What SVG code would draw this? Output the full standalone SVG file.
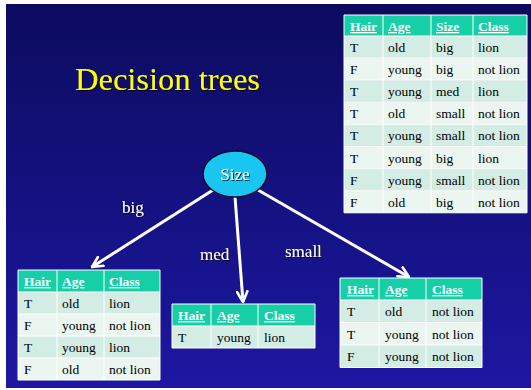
<svg xmlns="http://www.w3.org/2000/svg" width="531" height="390" viewBox="0 0 531 390">
<defs>
<linearGradient id="bg" x1="0" y1="0" x2="0" y2="1">
<stop offset="0" stop-color="#0c0b5e"/>
<stop offset="1" stop-color="#1d17a2"/>
</linearGradient>
<marker id="arr" viewBox="0 0 10 10" refX="9" refY="5" markerWidth="13" markerHeight="13" markerUnits="userSpaceOnUse" orient="auto">
<path d="M1,1 L9,5 L1,9" fill="none" stroke="#fff" stroke-width="2" stroke-linecap="round" stroke-linejoin="round"/>
</marker>
<filter id="sh" x="-10%" y="-10%" width="130%" height="140%">
<feDropShadow dx="1" dy="1" stdDeviation="0.4" flood-color="#000" flood-opacity="0.8"/>
</filter>
</defs>
<style>
text{font-family:"Liberation Serif","Times New Roman","DejaVu Serif",serif}
.cell{font-size:13.5px;fill:#000}
.hd{font-size:13.5px;font-weight:bold;fill:#fff;text-decoration:underline}
.hdr{fill:#16cfa7}
.r1{fill:#d3ece4}
.r2{fill:#ebf6f1}
.grid{stroke:#fff;stroke-width:1;fill:none}
.lbl{font-size:17px;fill:#fff}
.edge{stroke:#fff;stroke-width:3;fill:none;marker-end:url(#arr)}
</style>
<rect x="0" y="0" width="531" height="390" fill="#fff"/>
<rect x="6" y="4" width="525" height="384" fill="url(#bg)"/>

<g id="title">
<text x="75" y="90" font-size="32.5" fill="#ffff00" filter="url(#sh)">Decision trees</text>
</g>

<g id="table-all">
<rect class="hdr" x="344" y="15" width="183" height="21"/>
<rect class="r1" x="344" y="36" width="183" height="22.1"/>
<rect class="r2" x="344" y="58.1" width="183" height="22.1"/>
<rect class="r1" x="344" y="80.2" width="183" height="22.1"/>
<rect class="r2" x="344" y="102.3" width="183" height="22.1"/>
<rect class="r1" x="344" y="124.4" width="183" height="22.1"/>
<rect class="r2" x="344" y="146.5" width="183" height="22.1"/>
<rect class="r1" x="344" y="168.6" width="183" height="22.1"/>
<rect class="r2" x="344" y="190.7" width="183" height="22.1"/>
<path class="grid" d="M344,15H527V212.8H344Z M383,15V212.8 M431,15V212.8 M473,15V212.8 M344,36H527 M344,58.1H527 M344,80.2H527 M344,102.3H527 M344,124.4H527 M344,146.5H527 M344,168.6H527 M344,190.7H527"/>
<text class="hd" x="350" y="31">Hair</text><text class="hd" x="388" y="31">Age</text><text class="hd" x="436" y="31">Size</text><text class="hd" x="478" y="31">Class</text>
<text class="cell" x="350" y="52">T</text><text class="cell" x="388" y="52">old</text><text class="cell" x="436" y="52">big</text><text class="cell" x="478" y="52">lion</text>
<text class="cell" x="350" y="74.1">F</text><text class="cell" x="388" y="74.1">young</text><text class="cell" x="436" y="74.1">big</text><text class="cell" x="478" y="74.1">not lion</text>
<text class="cell" x="350" y="96.2">T</text><text class="cell" x="388" y="96.2">young</text><text class="cell" x="436" y="96.2">med</text><text class="cell" x="478" y="96.2">lion</text>
<text class="cell" x="350" y="118.3">T</text><text class="cell" x="388" y="118.3">old</text><text class="cell" x="436" y="118.3">small</text><text class="cell" x="478" y="118.3">not lion</text>
<text class="cell" x="350" y="140.4">T</text><text class="cell" x="388" y="140.4">young</text><text class="cell" x="436" y="140.4">small</text><text class="cell" x="478" y="140.4">not lion</text>
<text class="cell" x="350" y="162.5">T</text><text class="cell" x="388" y="162.5">young</text><text class="cell" x="436" y="162.5">big</text><text class="cell" x="478" y="162.5">lion</text>
<text class="cell" x="350" y="184.6">F</text><text class="cell" x="388" y="184.6">young</text><text class="cell" x="436" y="184.6">small</text><text class="cell" x="478" y="184.6">not lion</text>
<text class="cell" x="350" y="206.7">F</text><text class="cell" x="388" y="206.7">old</text><text class="cell" x="436" y="206.7">big</text><text class="cell" x="478" y="206.7">not lion</text>
</g>

<g id="connectors">
<line class="edge" x1="213" y1="190" x2="92" y2="267"/>
<line class="edge" x1="235" y1="197" x2="243" y2="302"/>
<line class="edge" x1="258" y1="190" x2="409" y2="277"/>
</g>

<g id="edge-labels" filter="url(#sh)">
<text class="lbl" x="122" y="213">big</text>
<text class="lbl" x="200" y="260">med</text>
<text class="lbl" x="285" y="257">small</text>
</g>

<g id="node-size">
<ellipse cx="235" cy="174" rx="32" ry="23" fill="#19c5f1" stroke="#0a0a30" stroke-width="1.5"/>
<text x="235" y="180" text-anchor="middle" font-size="17" fill="#fff" filter="url(#sh)">Size</text>
</g>

<g id="table-big">
<rect class="hdr" x="18" y="270" width="142" height="22"/>
<rect class="r1" x="18" y="292" width="142" height="22"/>
<rect class="r2" x="18" y="314" width="142" height="22"/>
<rect class="r1" x="18" y="336" width="142" height="22"/>
<rect class="r2" x="18" y="358" width="142" height="22"/>
<path class="grid" d="M18,270H160V380H18Z M57,270V380 M104,270V380 M18,292H160 M18,314H160 M18,336H160 M18,358H160"/>
<text class="hd" x="24" y="286">Hair</text><text class="hd" x="62" y="286">Age</text><text class="hd" x="109" y="286">Class</text>
<text class="cell" x="24" y="308">T</text><text class="cell" x="62" y="308">old</text><text class="cell" x="109" y="308">lion</text>
<text class="cell" x="24" y="330">F</text><text class="cell" x="62" y="330">young</text><text class="cell" x="109" y="330">not lion</text>
<text class="cell" x="24" y="352">T</text><text class="cell" x="62" y="352">young</text><text class="cell" x="109" y="352">lion</text>
<text class="cell" x="24" y="374">F</text><text class="cell" x="62" y="374">old</text><text class="cell" x="109" y="374">not lion</text>
</g>

<g id="table-med">
<rect class="hdr" x="172" y="304" width="143" height="22"/>
<rect class="r1" x="172" y="326" width="143" height="22"/>
<path class="grid" d="M172,304H315V348H172Z M211,304V348 M258,304V348 M172,326H315"/>
<text class="hd" x="178" y="320">Hair</text><text class="hd" x="217" y="320">Age</text><text class="hd" x="264" y="320">Class</text>
<text class="cell" x="178" y="342">T</text><text class="cell" x="217" y="342">young</text><text class="cell" x="264" y="342">lion</text>
</g>

<g id="table-small">
<rect class="hdr" x="340" y="278" width="142" height="22"/>
<rect class="r1" x="340" y="300" width="142" height="22.5"/>
<rect class="r2" x="340" y="322.5" width="142" height="22.5"/>
<rect class="r1" x="340" y="345" width="142" height="22.5"/>
<path class="grid" d="M340,278H482V367.5H340Z M379,278V367.5 M426,278V367.5 M340,300H482 M340,322.5H482 M340,345H482"/>
<text class="hd" x="347" y="294">Hair</text><text class="hd" x="385" y="294">Age</text><text class="hd" x="432" y="294">Class</text>
<text class="cell" x="347" y="316">T</text><text class="cell" x="385" y="316">old</text><text class="cell" x="432" y="316">not lion</text>
<text class="cell" x="347" y="338.5">T</text><text class="cell" x="385" y="338.5">young</text><text class="cell" x="432" y="338.5">not lion</text>
<text class="cell" x="347" y="361">F</text><text class="cell" x="385" y="361">young</text><text class="cell" x="432" y="361">not lion</text>
</g>
</svg>
